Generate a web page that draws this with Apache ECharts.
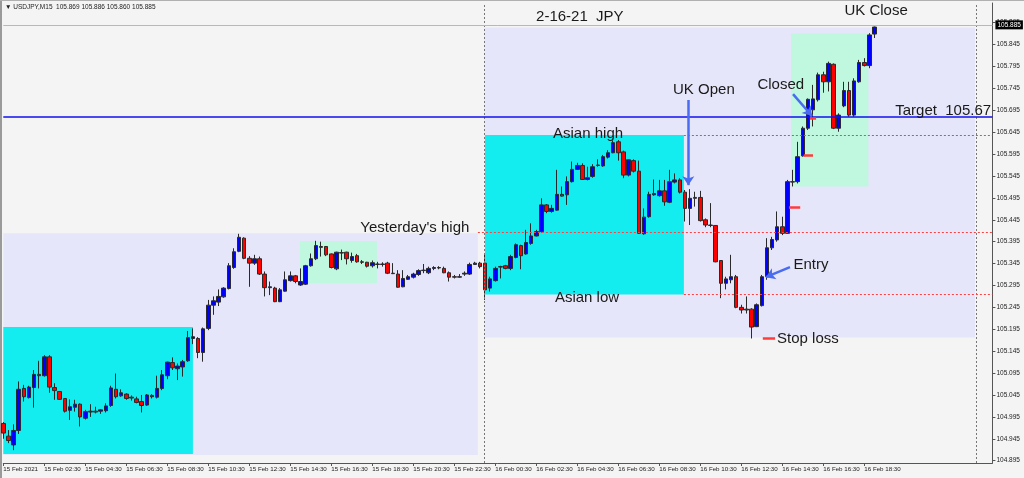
<!DOCTYPE html>
<html><head><meta charset="utf-8">
<script src="https://cdn.jsdelivr.net/npm/echarts@6/dist/echarts.min.js"></script>
<style>html,body{margin:0;padding:0;background:#f4f4f4}#c{width:1024px;height:478px}</style>
</head><body><div id="c"></div>
<script>
// ---------- DATA (USDJPY M15, 15 Feb 00:30 -> 16 Feb 19:00) ----------
const opens = [104.980,104.951,104.931,104.964,105.060,105.039,105.062,105.092,105.089,105.132,
105.062,105.053,105.037,105.010,105.017,105.024,104.992,105.006,105.008,105.008,
105.009,105.021,105.058,105.043,105.047,105.038,105.036,105.030,105.022,105.044,
105.040,105.060,105.089,105.119,105.105,105.109,105.123,105.174,105.174,105.142,
105.197,105.250,105.257,105.269,105.288,105.336,105.373,105.403,105.357,105.346,
105.356,105.321,105.290,105.289,105.258,105.282,105.306,105.317,105.296,105.298,
105.340,105.356,105.384,105.384,105.367,105.333,105.370,105.371,105.352,105.363,
105.349,105.348,105.340,105.344,105.343,105.346,105.323,105.321,105.292,105.309,
105.314,105.320,105.329,105.324,105.334,105.336,105.334,105.324,105.315,105.314,
105.321,105.321,105.343,105.346,105.346,105.289,105.306,105.337,105.340,105.334,
105.359,105.386,105.367,105.391,105.408,105.418,105.479,105.464,105.467,105.503,
105.502,105.532,105.560,105.569,105.537,105.544,105.569,105.568,105.588,105.598,
105.623,105.600,105.547,105.580,105.556,105.413,105.452,105.502,105.500,105.511,
105.485,105.531,105.536,105.508,105.471,105.496,105.496,105.445,105.433,105.432,
105.352,105.300,105.308,105.315,105.245,105.241,105.241,105.201,105.249,105.315,
105.381,105.399,105.429,105.414,105.532,105.532,105.591,105.654,105.696,105.719,
105.776,105.760,105.800,105.654,105.705,105.740,105.684,105.760,105.804,105.797,
105.869];
const highs = [104.983,104.965,104.978,105.076,105.068,105.066,105.102,105.123,105.136,105.136,
105.072,105.054,105.038,105.035,105.034,105.026,105.011,105.024,105.018,105.013,
105.026,105.066,105.094,105.058,105.049,105.044,105.041,105.045,105.047,105.047,
105.089,105.102,105.121,105.131,105.117,105.125,105.191,105.197,105.177,105.199,
105.262,105.270,105.286,105.291,105.346,105.380,105.413,105.405,105.362,105.365,
105.361,105.327,105.304,105.292,105.289,105.327,105.327,105.319,105.334,105.342,
105.368,105.397,105.395,105.385,105.368,105.372,105.377,105.372,105.370,105.367,
105.353,105.349,105.352,105.349,105.348,105.349,105.346,105.330,105.330,105.319,
105.324,105.332,105.344,105.338,105.339,105.339,105.338,105.327,105.319,105.321,
105.327,105.347,105.349,105.349,105.368,105.315,105.338,105.340,105.342,105.365,
105.391,105.388,105.422,105.437,105.422,105.494,105.481,105.479,105.559,105.521,
105.544,105.578,105.575,105.574,105.566,105.572,105.583,105.593,105.604,105.626,
105.627,105.603,105.583,105.583,105.580,105.471,105.509,105.537,105.536,105.536,
105.559,105.551,105.540,105.513,105.515,105.509,105.511,105.448,105.483,105.433,
105.353,105.315,105.365,105.319,105.251,105.270,105.243,105.254,105.319,105.403,
105.406,105.464,105.452,105.536,105.559,105.623,105.658,105.722,105.753,105.781,
105.783,105.806,105.802,105.688,105.760,105.760,105.768,105.810,105.814,105.871,
105.886];
const lows = [104.945,104.935,104.919,104.956,105.030,105.037,105.016,105.060,105.087,105.050,
105.034,105.034,105.005,104.988,105.007,104.973,104.989,104.995,105.003,105.002,
105.005,105.018,105.037,105.041,105.034,105.032,105.026,105.005,105.020,105.037,
105.037,105.056,105.081,105.102,105.079,105.087,105.121,105.161,105.129,105.121,
105.193,105.228,105.248,105.267,105.286,105.333,105.371,105.355,105.292,105.342,
105.319,105.270,105.273,105.257,105.257,105.281,105.304,105.300,105.294,105.296,
105.338,105.353,105.361,105.362,105.334,105.330,105.353,105.343,105.347,105.347,
105.344,105.336,105.336,105.334,105.338,105.321,105.321,105.290,105.291,105.308,
105.311,105.317,105.323,105.321,105.330,105.332,105.323,105.304,105.311,105.313,
105.317,105.319,105.342,105.334,105.262,105.281,105.304,105.311,105.332,105.330,
105.357,105.332,105.365,105.388,105.407,105.416,105.460,105.461,105.466,105.498,
105.479,105.530,105.559,105.536,105.535,105.541,105.566,105.566,105.585,105.597,
105.580,105.540,105.544,105.553,105.413,105.411,105.450,105.500,105.498,105.477,
105.483,105.528,105.505,105.441,105.433,105.475,105.441,105.428,105.428,105.348,
105.266,105.286,105.300,105.243,105.231,105.231,105.174,105.200,105.247,105.308,
105.376,105.395,105.410,105.413,105.521,105.528,105.589,105.650,105.658,105.715,
105.735,105.738,105.652,105.646,105.702,105.680,105.680,105.758,105.795,105.791,
105.860];
const closes = [104.958,104.941,104.964,105.058,105.041,105.063,105.092,105.089,105.132,105.063,
105.055,105.035,105.008,105.018,105.024,104.995,105.007,105.008,105.006,105.011,
105.020,105.061,105.041,105.050,105.037,105.040,105.028,105.021,105.045,105.041,
105.060,105.091,105.120,105.107,105.111,105.121,105.176,105.178,105.142,105.196,
105.250,105.260,105.270,105.289,105.340,105.372,105.405,105.357,105.346,105.356,
105.321,105.290,105.292,105.258,105.285,105.308,105.317,105.304,105.304,105.340,
105.356,105.386,105.382,105.365,105.336,105.371,105.369,105.356,105.361,105.349,
105.348,105.339,105.347,105.343,105.344,105.323,105.322,105.291,105.311,105.315,
105.321,105.329,105.330,105.334,105.336,105.335,105.324,105.314,105.314,105.315,
105.323,105.343,105.346,105.338,105.285,105.310,105.334,105.338,105.334,105.361,
105.388,105.363,105.393,105.408,105.418,105.479,105.464,105.471,105.503,105.499,
105.532,105.560,105.569,105.537,105.541,105.566,105.570,105.589,105.598,105.621,
105.598,105.547,105.582,105.556,105.414,105.451,105.503,105.505,105.511,105.486,
105.532,105.536,105.508,105.471,105.494,105.494,105.443,105.433,105.432,105.349,
105.300,105.310,105.315,105.245,105.239,105.239,105.200,105.251,105.315,105.381,
105.400,105.429,105.414,105.532,105.531,105.589,105.654,105.720,105.721,105.776,
105.760,105.802,105.654,105.684,105.740,105.684,105.762,105.804,105.797,105.867,
105.885];

const xTickLabels = ['15 Feb 2021','15 Feb 02:30','15 Feb 04:30','15 Feb 06:30','15 Feb 08:30','15 Feb 10:30',
'15 Feb 12:30','15 Feb 14:30','15 Feb 16:30','15 Feb 18:30','15 Feb 20:30','15 Feb 22:30',
'16 Feb 00:30','16 Feb 02:30','16 Feb 04:30','16 Feb 06:30','16 Feb 08:30','16 Feb 10:30',
'16 Feb 12:30','16 Feb 14:30','16 Feb 16:30','16 Feb 18:30'];
const yTicks = [104.895,104.945,104.995,105.045,105.095,105.145,105.195,105.245,105.295,105.345,
105.395,105.445,105.495,105.545,105.595,105.645,105.695,105.745,105.795,105.845,105.895];

// boxes: [fromBar, toBar, low, high]
const lavenderBoxes = [[0, 92.6, 104.908, 105.414], [93.9, 189.6, 105.176, 105.884]];
const cyanBoxes = [[0, 37.0, 104.910, 105.200], [94.0, 132.8, 105.2745, 105.6386]];
const mintBoxes = [[57.9, 72.9, 105.300, 105.3966], [153.7, 168.8, 105.521, 105.871]];
// levels
const targetLevel = 105.678;
const bidLevel = 105.885;
const dottedLevels = [[132.8, 105.6386], [92.6, 105.4154], [132.8, 105.2745]]; // [fromBar, price]
const daySeparators = [93.85, 189.8];
// arrows: [[fromBar, fromPrice], [toBar, toPrice]]
const arrows = [[[133.66, 105.7185], [133.66, 105.524]], [[168.4, 105.942], [168.4, 105.8715]],
  [[154.1, 105.732], [157.8, 105.682]], [[153.5, 105.337], [148.8, 105.314]]];
// trade markers: [fromBar, toBar, price]
const tradeMarks = [[148.2, 150.6, 105.1746], [153.3, 155.5, 105.4735], [156.2, 158.0, 105.593], [157.4, 158.6, 105.676]];
// annotations: [text, bar, price]
const notes = [['2-16-21  JPY', 112.5, 105.908], ['UK Close', 170.3, 105.922], ['UK Open', 136.7, 105.741],
  ['Closed', 151.7, 105.753], ['Target  105.67', 183.4, 105.693], ['Asian high', 114.1, 105.641],
  ["Yesterday's high", 80.3, 105.426], ['Asian low', 113.9, 105.266], ['Entry', 157.6, 105.342],
  ['Stop loss', 157.0, 105.173]];

// categories (15-minute bars)
const NCAT = 194;
const categories = [];
for (let k = 0; k < NCAT; k++) {
  const m = 30 + k * 15;
  const day = 15 + Math.floor(m / 1440);
  const mm = m % 1440;
  const hh = String(Math.floor(mm / 60)).padStart(2, '0');
  const mi = String(mm % 60).padStart(2, '0');
  categories.push(day + ' Feb ' + hh + ':' + mi);
}
const candleData = opens.map((o, i) => [o, closes[i], lows[i], highs[i]]);

const FONT = 'Liberation Sans, Arial, sans-serif';
const chart = echarts.init(document.getElementById('c'));
const tickShow = (i) => i % 8 === 0 && i <= 168;
const box = (arr, color) => arr.map(b => [{coord: [b[0], b[2]], itemStyle: {color: color}}, {coord: [b[1], b[3]]}]);

chart.setOption({
  animation: false,
  backgroundColor: '#f4f4f4',
  grid: {left: 3.3, top: 3, width: 989.1, height: 460, containLabel: false},
  xAxis: [{
    type: 'category', data: categories, boundaryGap: false,
    axisLine: {show: true, onZero: false, lineStyle: {color: '#555', width: 1}},
    axisTick: {show: true, interval: (i) => tickShow(i), length: 3, lineStyle: {color: '#555'}},
    axisLabel: {interval: (i) => tickShow(i), formatter: (v, i) => xTickLabels[Math.round(i / 8)] || '',
      align: 'left', fontSize: 6.2, color: '#222', margin: 3, fontFamily: FONT},
    splitLine: {show: false}
  }, {
    type: 'value', min: 0, max: NCAT - 1, show: false
  }],
  yAxis: {
    type: 'value', position: 'right', min: 104.8897, max: 105.9399, scale: true,
    splitLine: {show: false},
    axisLine: {show: true, onZero: false, lineStyle: {color: '#555'}},
    axisTick: {show: true, customValues: yTicks, length: 3, lineStyle: {color: '#555'}},
    axisLabel: {customValues: yTicks, formatter: (v) => v.toFixed(3), fontSize: 6.5, color: '#222', margin: 4, fontFamily: FONT}
  },
  graphic: [
    {type: 'line', shape: {x1: 1, y1: 0, x2: 1, y2: 478}, style: {stroke: '#9a9a9a', lineWidth: 2}, silent: true},
    {type: 'line', shape: {x1: 0, y1: 0.5, x2: 1024, y2: 0.5}, style: {stroke: '#b0b0b0', lineWidth: 1}, silent: true},
    {type: 'text', left: 5, top: 4, style: {text: '\u25BC USDJPY,M15  105.869 105.886 105.860 105.885', fontSize: 6.5, fill: '#222', fontFamily: FONT}}
  ],
  series: [
    {type: 'line', xAxisIndex: 1, data: [], z: 1, silent: true,
      markArea: {silent: true, data: [].concat(box(lavenderBoxes, '#e6e6fa'), box(cyanBoxes, '#13edf0'), box(mintBoxes, '#bff8df'))}},
    {type: 'candlestick', xAxisIndex: 0, data: candleData, z: 3, barWidth: 4, clip: true,
      itemStyle: {color: '#0000ff', color0: '#ff0000', borderColor: '#2a2a2a', borderColor0: '#2a2a2a', borderWidth: 1}},
    {type: 'line', xAxisIndex: 1, data: [], z: 4, silent: true,
      markLine: {silent: true, symbol: 'none', label: {show: false}, animation: false,
        data: [
          ...daySeparators.map(x => ({xAxis: x, lineStyle: {color: '#777', type: [2, 2], width: 1}})),
          {yAxis: bidLevel, lineStyle: {color: '#b8b8b8', type: 'solid', width: 1},
            label: {show: true, position: 'end', formatter: '105.885', backgroundColor: '#000', color: '#fff', fontSize: 6.5, padding: [1, 2], distance: 3, fontFamily: FONT}},
          {yAxis: targetLevel, lineStyle: {color: '#1010f0', type: 'solid', width: 1.5}},
          ...dottedLevels.map(d => [{coord: [d[0], d[1]], lineStyle: {color: '#ff4040', type: [2, 2], width: 1}}, {coord: [NCAT - 1, d[1]]}]),
          ...tradeMarks.map(t => [{coord: [t[0], t[2]], lineStyle: {color: '#ff3b3b', type: 'solid', width: 2.5}}, {coord: [t[1], t[2]]}])
        ]}},
    {type: 'line', xAxisIndex: 1, data: [], z: 5, silent: true,
      markLine: {silent: true, symbol: ['none', 'arrow'], symbolSize: 9, label: {show: false}, animation: false,
        lineStyle: {color: '#4a6cf2', width: 2.5, type: 'solid'},
        data: arrows.map(a => [{coord: a[0]}, {coord: a[1]}])},
      markPoint: {silent: true, symbol: 'circle', symbolSize: 1, itemStyle: {color: 'rgba(0,0,0,0)'}, animation: false,
        label: {show: true, position: 'inside', color: '#1a1a1a', fontSize: 15, fontFamily: FONT, formatter: (p) => p.name},
        data: notes.map(n => ({name: n[0], coord: [n[1], n[2]]}))}}
  ]
});
</script></body></html>
